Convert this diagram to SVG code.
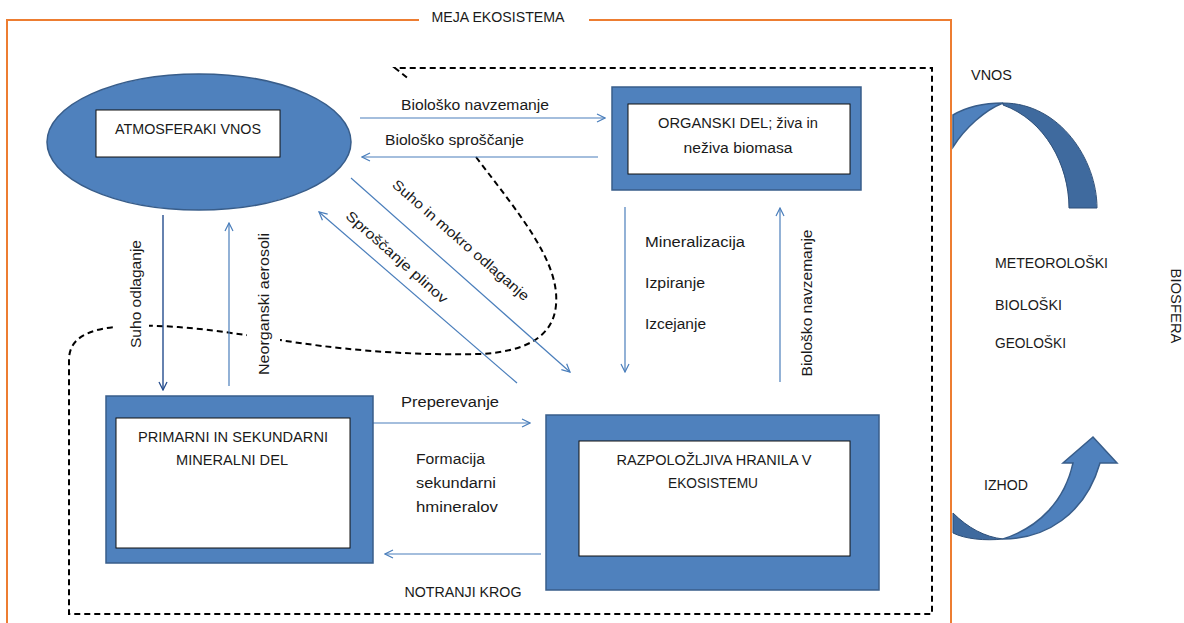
<svg xmlns="http://www.w3.org/2000/svg" width="1184" height="623" viewBox="0 0 1184 623">
<style>
text{font-family:"Liberation Sans",Arial,sans-serif;font-size:14px;fill:#1a1a1a}
.frame{fill:none;stroke:#ED7D31;stroke-width:2}
.blue{fill:#4F81BD;stroke:#385D8A;stroke-width:1.5}
.dark{fill:#3F6A9E;stroke:#2E4F78;stroke-width:1}
.inner{fill:#fff;stroke:#111;stroke-width:1}
.conn{fill:none;stroke:#4A7EBB;stroke-width:1.2}
.conn2{fill:none;stroke:#254D8E;stroke-width:1.4}
.dash{fill:none;stroke:#000;stroke-width:2;stroke-dasharray:6 4}
.bg{fill:#fff}
</style>
<defs>
<marker id="ah" viewBox="0 0 10 10" refX="9" refY="5" markerWidth="10" markerHeight="10" markerUnits="userSpaceOnUse" orient="auto">
<path d="M1,1 L9,5 L1,9" fill="none" stroke="#4A7EBB" stroke-width="1.2"/>
</marker>
<marker id="ah2" viewBox="0 0 10 10" refX="9" refY="5" markerWidth="10" markerHeight="10" markerUnits="userSpaceOnUse" orient="auto">
<path d="M1,1 L9,5 L1,9" fill="none" stroke="#254D8E" stroke-width="1.3"/>
</marker>
</defs>

<g id="boundary">
<path class="frame" d="M419,20 L7,20 L7,640 M589,20 L951,20 L951,640"/>
<text x="498" y="22" text-anchor="middle" textLength="133" lengthAdjust="spacingAndGlyphs">MEJA EKOSISTEMA</text>
</g>

<g id="inner-cycle">
<path class="dash" d="M476,157 C520,215 560,262 556,305 C553,340 520,352 480,354 C400,356 330,348 280,340 C230,333 170,322 115,327 C85,330 69,340 69,360 L69,614 L932,614 L932,68 L395,68 L410,80"/>
<text x="463" y="597" text-anchor="middle" textLength="117" lengthAdjust="spacingAndGlyphs">NOTRANJI KROG</text>
</g>

<g id="connectors">
<line class="conn" x1="360" y1="118" x2="605" y2="118" marker-end="url(#ah)"/>
<line class="conn" x1="598" y1="157" x2="362" y2="157" marker-end="url(#ah)"/>
<line class="conn" x1="351" y1="178" x2="570" y2="372" marker-end="url(#ah)"/>
<line class="conn" x1="517" y1="383" x2="319" y2="212" marker-end="url(#ah)"/>
<line class="conn2" x1="163" y1="215" x2="163" y2="390" marker-end="url(#ah2)"/>
<line class="conn" x1="229" y1="386" x2="229" y2="223" marker-end="url(#ah)"/>
<line class="conn" x1="625" y1="207" x2="625" y2="372" marker-end="url(#ah)"/>
<line class="conn" x1="780" y1="382" x2="780" y2="208" marker-end="url(#ah)"/>
<line class="conn" x1="373" y1="423" x2="530" y2="423" marker-end="url(#ah)"/>
<line class="conn" x1="541" y1="554" x2="385" y2="554" marker-end="url(#ah)"/>
</g>

<g id="labels">
<text x="401" y="110" textLength="148" lengthAdjust="spacingAndGlyphs">Biološko navzemanje</text>
<text x="385" y="145" textLength="139" lengthAdjust="spacingAndGlyphs">Biološko sproščanje</text>
<text transform="translate(461,240) rotate(41)" text-anchor="middle" dy="5" textLength="176" lengthAdjust="spacingAndGlyphs">Suho in mokro odlaganje</text>
<text transform="translate(397,257) rotate(41.5)" text-anchor="middle" dy="5" textLength="131" lengthAdjust="spacingAndGlyphs">Sproščanje plinov</text>
<rect class="bg" x="116" y="232" width="33" height="124"/>
<text transform="translate(136,294) rotate(-90)" text-anchor="middle" dy="5" textLength="108" lengthAdjust="spacingAndGlyphs">Suho odlaganje</text>
<rect class="bg" x="247" y="222" width="33" height="160"/>
<text transform="translate(264,304) rotate(-90)" text-anchor="middle" dy="5" textLength="142" lengthAdjust="spacingAndGlyphs">Neorganski aerosoli</text>
<text x="645" y="247" textLength="100" lengthAdjust="spacingAndGlyphs">Mineralizacija</text>
<text x="645" y="288" textLength="60" lengthAdjust="spacingAndGlyphs">Izpiranje</text>
<text x="645" y="329" textLength="61" lengthAdjust="spacingAndGlyphs">Izcejanje</text>
<text transform="translate(807,303) rotate(-90)" text-anchor="middle" dy="5" textLength="147" lengthAdjust="spacingAndGlyphs">Biološko navzemanje</text>
<text x="401" y="407" textLength="98" lengthAdjust="spacingAndGlyphs">Preperevanje</text>
<text x="416" y="464" textLength="69" lengthAdjust="spacingAndGlyphs">Formacija</text>
<text x="416" y="488" textLength="80" lengthAdjust="spacingAndGlyphs">sekundarni</text>
<text x="416" y="512" textLength="82" lengthAdjust="spacingAndGlyphs">hmineralov</text>
</g>

<g id="atmosferaki-vnos">
<ellipse class="blue" cx="199" cy="142" rx="152" ry="68"/>
<rect class="inner" x="96" y="110" width="184" height="47"/>
<text x="188" y="134" text-anchor="middle" textLength="146" lengthAdjust="spacingAndGlyphs">ATMOSFERAKI VNOS</text>
</g>

<g id="organski-del">
<rect class="blue" x="612" y="87" width="249" height="103"/>
<rect class="inner" x="628" y="104" width="222" height="70"/>
<text x="738" y="128" text-anchor="middle" textLength="160" lengthAdjust="spacingAndGlyphs">ORGANSKI DEL; živa in</text>
<text x="738" y="153" text-anchor="middle" textLength="109" lengthAdjust="spacingAndGlyphs">neživa biomasa</text>
</g>

<g id="mineralni-del">
<rect class="blue" x="106" y="396" width="267" height="167"/>
<rect class="inner" x="116" y="418" width="234" height="130"/>
<text x="233" y="442" text-anchor="middle" textLength="190" lengthAdjust="spacingAndGlyphs">PRIMARNI IN SEKUNDARNI</text>
<text x="232" y="465" text-anchor="middle" textLength="112" lengthAdjust="spacingAndGlyphs">MINERALNI DEL</text>
</g>

<g id="hranila">
<rect class="blue" x="546" y="415" width="333" height="175"/>
<rect class="inner" x="579" y="441" width="271" height="115"/>
<text x="714" y="465" text-anchor="middle" textLength="195" lengthAdjust="spacingAndGlyphs">RAZPOLOŽLJIVA HRANILA V</text>
<text x="713" y="488" text-anchor="middle" textLength="90" lengthAdjust="spacingAndGlyphs">EKOSISTEMU</text>
</g>

<g id="vnos">
<path class="blue" d="M953,115 C968,106 985,103 1003,103 C985,110 965,128 953,147 Z"/>
<path class="dark" d="M1003,103 C1060,103 1097,160 1097,208 L1069,208 C1069,165 1045,120 1003,105 Z"/>
<text x="971" y="80" textLength="41" lengthAdjust="spacingAndGlyphs">VNOS</text>
</g>

<g id="izhod">
<path class="dark" d="M953,513 C968,528 985,537 1003,539 C985,541 965,539 953,533 Z"/>
<path class="blue" d="M1003,539 C1045,539 1085,515 1100,463 L1117,463 L1093,437 L1063,463 L1073,463 C1065,500 1040,527 1003,539 Z"/>
<text x="984" y="490" textLength="44" lengthAdjust="spacingAndGlyphs">IZHOD</text>
</g>

<g id="biosfera">
<text x="995" y="268" textLength="113" lengthAdjust="spacingAndGlyphs">METEOROLOŠKI</text>
<text x="995" y="310" textLength="67" lengthAdjust="spacingAndGlyphs">BIOLOŠKI</text>
<text x="995" y="348" textLength="71" lengthAdjust="spacingAndGlyphs">GEOLOŠKI</text>
<text transform="translate(1176,306) rotate(90)" text-anchor="middle" dy="5" textLength="75" lengthAdjust="spacingAndGlyphs">BIOSFERA</text>
</g>
</svg>
